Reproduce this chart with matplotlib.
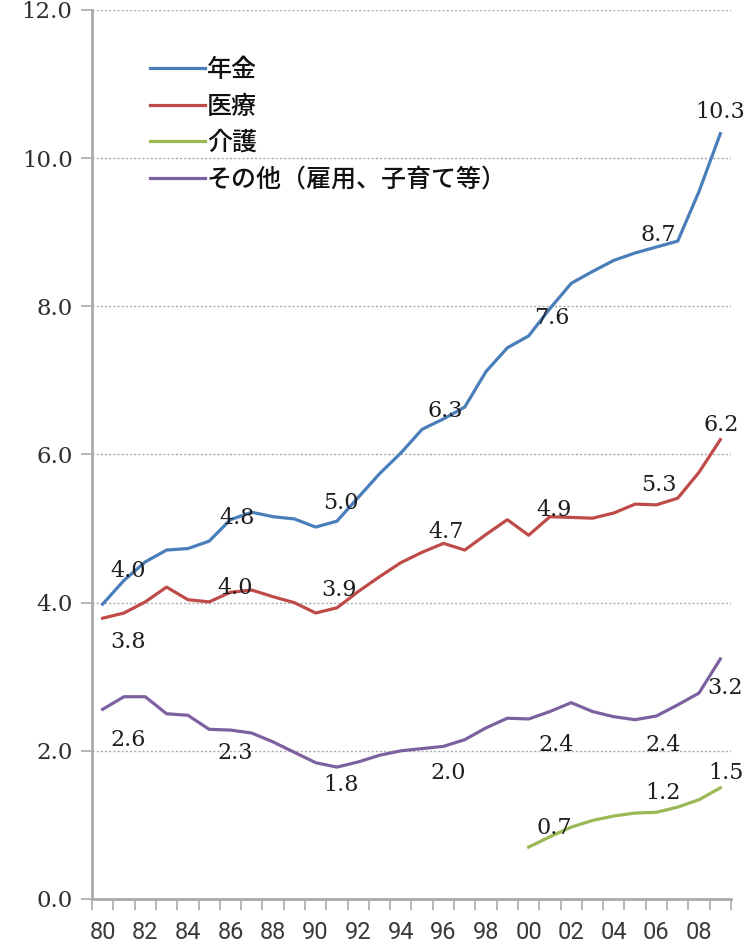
import numpy as np
import matplotlib.pyplot as plt

years = np.arange(1980, 2010)
nenkin = [3.98, 4.30, 4.55, 4.71, 4.73, 4.83, 5.12, 5.22, 5.16, 5.13,
          5.02, 5.10, 5.42, 5.74, 6.02, 6.34, 6.48, 6.64, 7.12, 7.44,
          7.60, 7.97, 8.31, 8.47, 8.62, 8.72, 8.80, 8.88, 9.55, 10.33]
iryo = [3.79, 3.86, 4.01, 4.21, 4.04, 4.01, 4.14, 4.17, 4.08, 4.00,
        3.86, 3.93, 4.15, 4.35, 4.54, 4.68, 4.80, 4.71, 4.92, 5.12,
        4.91, 5.16, 5.15, 5.14, 5.21, 5.33, 5.32, 5.41, 5.76, 6.20]
kaigo_years = np.arange(2000, 2010)
kaigo = [0.70, 0.84, 0.97, 1.06, 1.12, 1.16, 1.17, 1.24, 1.34, 1.50]
sonota = [2.56, 2.73, 2.73, 2.50, 2.48, 2.29, 2.28, 2.24, 2.12, 1.98,
          1.84, 1.78, 1.85, 1.94, 2.00, 2.03, 2.06, 2.15, 2.31, 2.44,
          2.43, 2.53, 2.65, 2.53, 2.46, 2.42, 2.47, 2.62, 2.78, 3.24]

names = ['年金', '医療', '介護', 'その他（雇用、子育て等）']
colors = ['#4a7ebb', '#be4b48', '#98b954', '#7d60a0']

label_years = [1980, 1985, 1990, 1995, 2000, 2005, 2009]
kaigo_label_years = [2000, 2005, 2009]

# label offsets (years, value units) from each labelled point
off_nenkin = [(1.2, 0.45), (1.3, 0.31), (1.2, 0.33), (1.1, 0.25), (1.1, 0.24), (1.1, 0.24), (0.0, 0.29)]
off_iryo = [(1.2, -0.32), (1.2, 0.19), (1.1, 0.31), (1.1, 0.27), (1.2, 0.34), (1.1, 0.26), (0.05, 0.2)]
off_sonota = [(1.2, -0.41), (1.2, -0.32), (1.2, -0.30), (1.2, -0.33), (1.3, -0.35), (1.3, -0.34), (0.2, -0.39)]
off_kaigo = [(1.2, 0.26), (1.3, 0.27), (0.25, 0.2)]

fig = plt.figure(figsize=(7.56, 9.48), dpi=100)
ax = fig.add_axes([0.1217, 0.0517, 0.8452, 0.9378])

series = [(years, nenkin), (years, iryo), (kaigo_years, kaigo), (years, sonota)]
for (x, y), name, c in zip(series, names, colors):
    ax.plot(x, y, color=c, lw=2.3, label=name, zorder=3)


def put_labels(x, y, which, offsets):
    x = list(x)
    for yr, (dx, dy) in zip(which, offsets):
        v = y[x.index(yr)]
        ax.text(yr + dx, v + dy, f'{v:.1f}', ha='center', va='center',
                fontsize=16, family='DejaVu Serif', color='#1e1e1e', zorder=4)


put_labels(years, nenkin, label_years, off_nenkin)
put_labels(years, iryo, label_years, off_iryo)
put_labels(years, sonota, label_years, off_sonota)
put_labels(kaigo_years, kaigo, kaigo_label_years, off_kaigo)

ax.set_xlim(1979.5, 2009.5)
ax.set_ylim(0, 12)

ax.set_yticks(np.arange(0, 13, 2))
ax.set_yticklabels([f'{v:.1f}' for v in np.arange(0, 13, 2)],
                   family='DejaVu Serif', fontsize=16.5, color='#2e2e2e')
ax.grid(axis='y', color='#aaaaaa', ls=(0, (1.5, 1.5)), lw=1.0)
ax.set_axisbelow(True)

ax.set_xticks(years[::2])
ax.set_xticklabels([f'{y % 100:02d}' for y in years[::2]],
                   family='Roboto', fontsize=17, color='#3a3a3a')
ax.set_xticks(np.arange(1979.5, 2010, 1), minor=True)
ax.tick_params(axis='x', which='major', length=0, pad=16)
ax.tick_params(axis='x', which='minor', length=8, width=1.2, color='#aaaaaa', direction='out')
ax.tick_params(axis='y', length=8, width=1.2, color='#aaaaaa', pad=6)

for s in ['top', 'right']:
    ax.spines[s].set_visible(False)
for s in ['left', 'bottom']:
    ax.spines[s].set_color('#aaaaaa')
    ax.spines[s].set_linewidth(2)

leg = ax.legend(loc='upper left', bbox_to_anchor=(0.09, 0.947), frameon=False,
                prop={'family': 'Noto Sans CJK JP', 'size': 18, 'weight': 'medium'},
                handlelength=2.2, handletextpad=0.1, labelspacing=0.42,
                borderpad=0, borderaxespad=0)
for t in leg.get_texts():
    t.set_color('#111111')

fig.savefig('out.png', dpi=100)
